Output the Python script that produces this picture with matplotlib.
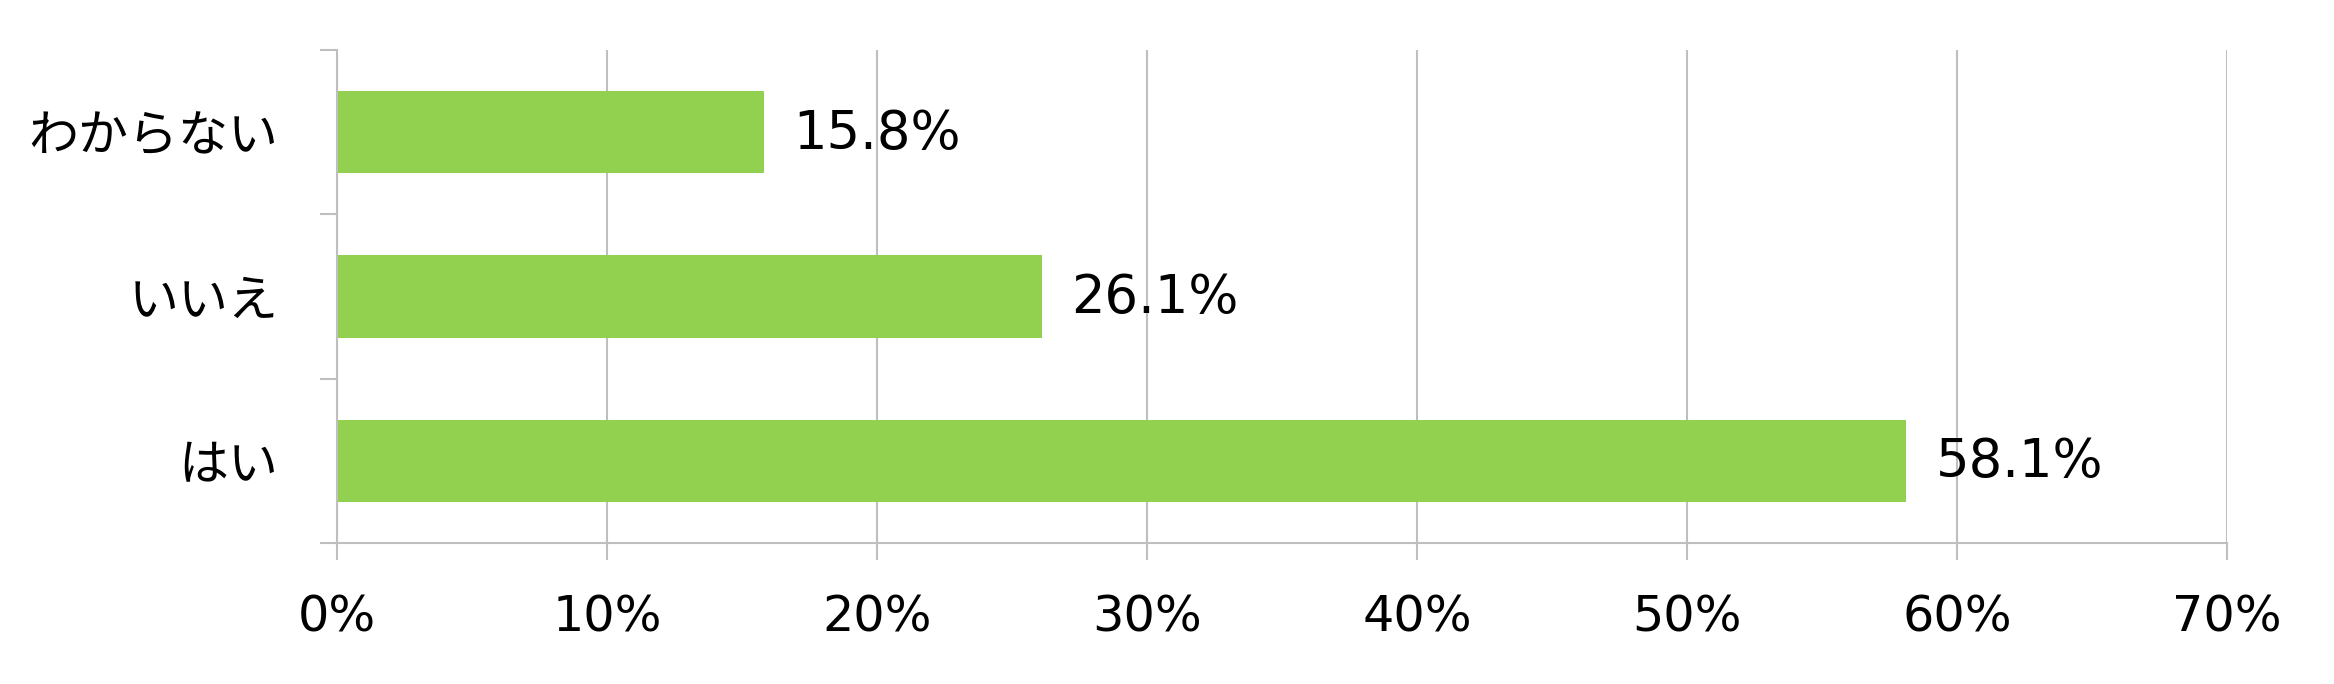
import numpy as np
import matplotlib.pyplot as plt
from matplotlib.ticker import FixedLocator

plt.rcParams['font.family'] = ['DejaVu Sans', 'Noto Sans CJK JP']

categories = ["はい", "いいえ", "わからない"]
values = [58.1, 26.1, 15.8]
xticks = [0, 10, 20, 30, 40, 50, 60, 70]
xticklabels = ["0%", "10%", "20%", "30%", "40%", "50%", "60%", "70%"]

bar_color = "#92D050"
grid_color = "#BFBFBF"

fig = plt.figure(figsize=(23.34, 6.84), dpi=100)
ax = fig.add_axes([0.1444, 0.2061, 0.8098, 0.7209])

y = np.arange(len(categories))
ax.barh(y, values, height=0.5, color=bar_color, zorder=3)

# value labels to the right of each bar
for yi, v in zip(y, values):
    ax.text(v + 1.1, yi - 0.01, f"{v:.1f}%", va="center", ha="left", fontsize=38, zorder=4)

ax.set_xlim(0, 70)
ax.set_ylim(-0.5, 2.5)
ax.set_xticks(xticks)
ax.set_xticklabels(xticklabels, fontsize=35.5)
ax.set_yticks(y)
ax.set_yticklabels(categories, fontsize=36)
ax.yaxis.set_minor_locator(FixedLocator([-0.5, 0.5, 1.5, 2.5]))

ax.tick_params(axis="y", which="major", length=0, pad=42)
ax.tick_params(axis="y", which="minor", length=12, width=1.5, color=grid_color)
ax.tick_params(axis="x", which="major", length=12, width=1.5, color=grid_color, pad=24)

ax.grid(axis="x", color=grid_color, linewidth=1.5, zorder=0)
for s in ["top", "right"]:
    ax.spines[s].set_visible(False)
for s in ["left", "bottom"]:
    ax.spines[s].set_color(grid_color)
    ax.spines[s].set_linewidth(1.5)
    ax.spines[s].set_zorder(5)

fig.savefig("out.png", dpi=100)
